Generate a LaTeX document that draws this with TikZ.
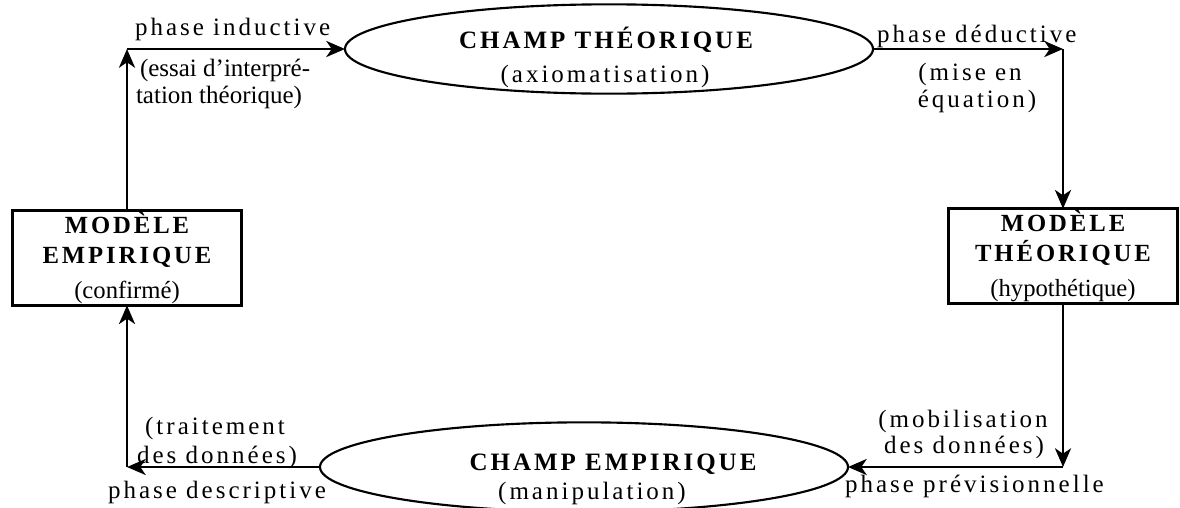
\documentclass[tikz,border=0pt]{standalone}
\usepackage{fontspec}
\setmainfont{Liberation Serif}
\newfontfamily\spacedfont[LetterSpace=12]{Liberation Serif}
\usetikzlibrary{shapes.geometric,arrows.meta}

\begin{document}
\begin{tikzpicture}[x=0.75pt,y=-0.75pt,
  every node/.style={inner sep=0pt,outer sep=0pt},
  field/.style={draw,ellipse,line width=1.6pt,minimum width=396pt,minimum height=67pt},
  model/.style={draw,rectangle,line width=1.8pt,minimum width=172pt,minimum height=71pt,
    align=center,font=\spacedfont\fontsize{18.5}{23}\selectfont},
  flow/.style={line width=2pt,-{Stealth[length=14pt,width=12pt,inset=4pt]}},
  lbl/.style={font=\spacedfont\fontsize{18.75}{20}\selectfont},
  tight/.style={font=\rmfamily\fontsize{18.75}{20}\selectfont},
  title/.style={font=\spacedfont\bfseries\fontsize{18.75}{20}\selectfont,anchor=base},
]
\useasboundingbox (0,0) rectangle (1180,507);

% the two fields
\node[field] (theo) at (609,49) {};
\node[title] (theoT) at (606,48) {CHAMP THÉORIQUE};
\node[lbl,anchor=base] (theoS) at (605,82) {(axiomatisation)};

\node[field] (emp) at (584,467) {};
\node[title] (empT) at (613,470) {CHAMP EMPIRIQUE};
\node[lbl,anchor=base] (empS) at (592,499) {(manipulation)};

% the two models
\node[model] (mE) at (127,258) {\bfseries MODÈLE\\\bfseries EMPIRIQUE\\[3pt]{\rmfamily (confirmé)}};
\node[model] (mT) at (1063,256) {\bfseries MODÈLE\\\bfseries THÉORIQUE\\[3pt]{\rmfamily (hypothétique)}};

% corners of the cycle
\coordinate (cTL) at (127,49);
\coordinate (cTR) at (1063,49);
\coordinate (cBR) at (1063,467);
\coordinate (cBL) at (127,467);

% connectors
\draw[flow] (mE.north) -- (cTL);
\draw[flow] (cTL) -- (theo.west);
\draw[flow] (theo.east) -- (cTR);
\draw[flow] (cTR) -- (mT.north);
\draw[flow] (mT.south) -- (cBR);
\draw[flow] (cBR) -- (emp.east);
\draw[flow] (emp.west) -- (cBL);
\draw[flow] (cBL) -- (mE.south);

% phase labels
\node[lbl,anchor=base west] (pInd) at (135,35) {phase inductive};
\node[tight,anchor=base west] (pInd1) at (140,76) {(essai d'interpré-};
\node[tight,anchor=base west] (pInd2) at (136,103) {tation théorique)};

\node[lbl,anchor=base west] (pDed) at (877,42) {phase déductive};
\node[lbl,anchor=base] (pDed1) at (970,80) {(mise en};
\node[lbl,anchor=base] (pDed2) at (977,107) {équation)};

\node[lbl,anchor=base] (pDes1) at (215,434) {(traitement};
\node[lbl,anchor=base] (pDes2) at (217,463) {des données)};
\node[lbl,anchor=base west] (pDes) at (108,498) {phase descriptive};

\node[lbl,anchor=base] (pPre1) at (963,427) {(mobilisation};
\node[lbl,anchor=base] (pPre2) at (964,453) {des données)};
\node[lbl,anchor=base west] (pPre) at (845,492) {phase prévisionnelle};
\end{tikzpicture}
\end{document}
